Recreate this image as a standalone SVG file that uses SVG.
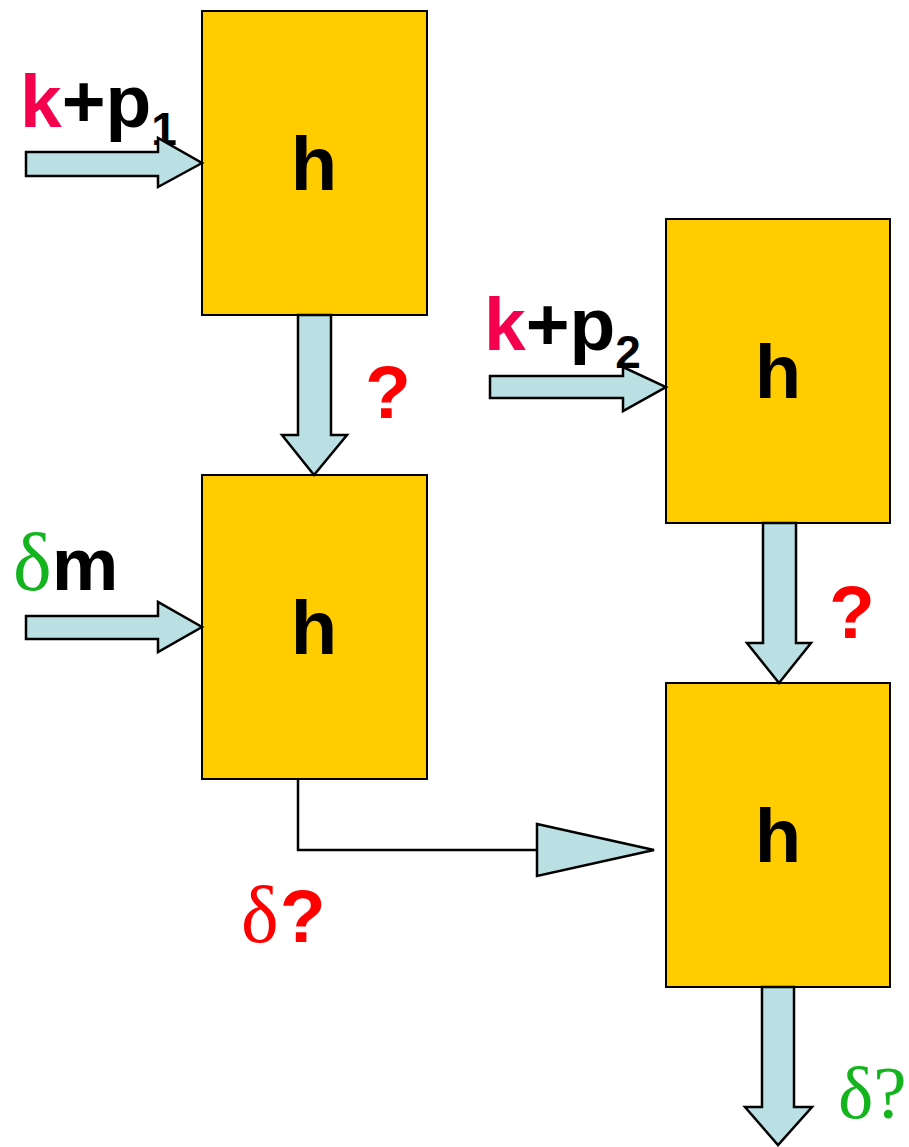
<svg xmlns="http://www.w3.org/2000/svg" width="909" height="1147" viewBox="0 0 909 1147">
<style>
.box{fill:#FFCC00;stroke:#000;stroke-width:2}
.arr{fill:#BAE0E3;stroke:#000;stroke-width:2.5;stroke-linejoin:miter}
.h{font-family:"Liberation Sans",Arial,sans-serif;font-weight:bold;font-size:76px;fill:#000;text-anchor:middle}
.lbl{font-family:"Liberation Sans",Arial,sans-serif;font-weight:bold;font-size:75px;fill:#000}
.sub{font-size:46px}
.pink{fill:#F5004F}
.red{fill:#FF0000}
.green{fill:#14B41E}
.serif{font-family:"Liberation Serif","Times New Roman",serif;font-weight:normal}
</style>
<rect width="909" height="1147" fill="#fff"/>
<g id="labels">
<text class="lbl" x="20" y="127"><tspan class="pink">k</tspan>+p<tspan class="sub" dy="18">1</tspan></text>
<text class="lbl" x="484" y="350"><tspan class="pink">k</tspan>+p<tspan class="sub" dy="18">2</tspan></text>
<text class="lbl" x="13" y="590"><tspan class="green serif" font-size="82">δ</tspan>m</text>
<text class="lbl red" x="365" y="418">?</text>
<text class="lbl red" x="829" y="638">?</text>
<text class="lbl red" x="241" y="942"><tspan class="serif" font-size="80">δ</tspan><tspan dx="1">?</tspan></text>
<text class="lbl green serif" x="838" y="1118">δ?</text>
</g>
<g id="box1"><rect class="box" x="202" y="11" width="225" height="304"/><text class="h" x="314" y="190">h</text></g>
<g id="box2"><rect class="box" x="202" y="475" width="225" height="304"/><text class="h" x="314" y="654">h</text></g>
<g id="box3"><rect class="box" x="666" y="219" width="224" height="304"/><text class="h" x="778" y="398">h</text></g>
<g id="box4"><rect class="box" x="666" y="683" width="224" height="304"/><text class="h" x="778" y="862">h</text></g>
<g id="connectors">
<path class="arr" d="M26,152 H158 V138 L202,163 L158,187 V176 H26 Z"/>
<path class="arr" d="M26,616 H158 V602 L202,627 L158,652 V639 H26 Z"/>
<path class="arr" d="M490,376 H623 V367 L666,387 L623,411 V398 H490 Z"/>
<path class="arr" d="M298,315 V435 H282 L314,475 L347,435 H331 V315 Z"/>
<path class="arr" d="M763,523 V643 H747 L779,683 L811,643 H796 V523 Z"/>
<path class="arr" d="M762,987 V1107 H745 L778,1145 L812,1107 H794 V987 Z"/>
<path d="M298,779 V850 H537" fill="none" stroke="#000" stroke-width="2.5"/>
<path class="arr" d="M537,824 L654,850 L537,876 Z"/>
</g>
</svg>
